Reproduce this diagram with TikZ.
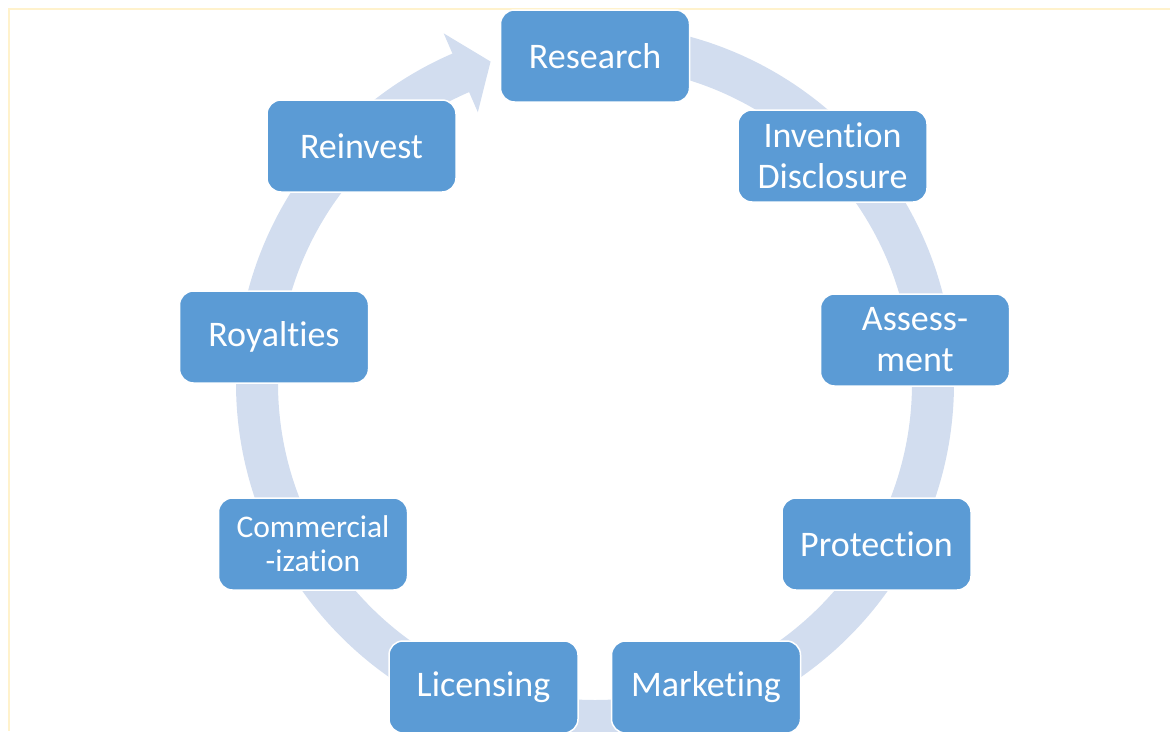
\documentclass[tikz,border=0pt]{standalone}
\usepackage{fontspec}
\setmainfont{Carlito}[Ligatures=NoCommon]
\usetikzlibrary{calc}
\definecolor{boxblue}{RGB}{91,155,213}
\definecolor{ringgray}{RGB}{210,221,239}
\definecolor{frameyellow}{RGB}{255,242,204}

\begin{document}
\begin{tikzpicture}[
    x=1pt, y=1pt,
    box/.style={rectangle, rounded corners=14pt, draw=white, line width=1.5pt, fill=boxblue, text=white, minimum width=189pt, minimum height=92pt, inner sep=2pt, align=center, font=\fontsize{36}{41}\selectfont},
    ring/.style={draw=ringgray, line width=42pt}
]
    \useasboundingbox (0,0) rectangle (1170,-731);

    % Frame
    \draw[frameyellow, line width=2pt] (8.5,-731) -- (8.5,-8.5) -- (1170,-8.5);

    % Cycle ring with arrow head
    \coordinate (c) at (595,-383);
    \draw[ring] ($(c)+(90:338)$) arc[start angle=90, end angle=-246.8, radius=338];
    \fill[ringgray] ($(c)+(113.4:381)$) -- ($(c)+(108:338)$) -- ($(c)+(113.4:295)$) -- cycle;

    % Steps
    \node[box] (research) at (595,-56) {Research};
    \node[box] (invention) at (832.5,-156) {Invention\\Disclosure};
    \node[box] (assessment) at (915,-340) {Assess-\\ment};
    \node[box] (protection) at (876.5,-544) {Protection};
    \node[box] (marketing) at (706,-687) {Marketing};
    \node[box] (licensing) at (483.5,-687) {Licensing};
    \node[box, font=\fontsize{31.5}{34}\selectfont] (commercial) at (313,-544) {Commercial\\-ization};
    \node[box] (royalties) at (274,-337) {Royalties};
    \node[box] (reinvest) at (361.5,-146) {Reinvest};
\end{tikzpicture}
\end{document}
